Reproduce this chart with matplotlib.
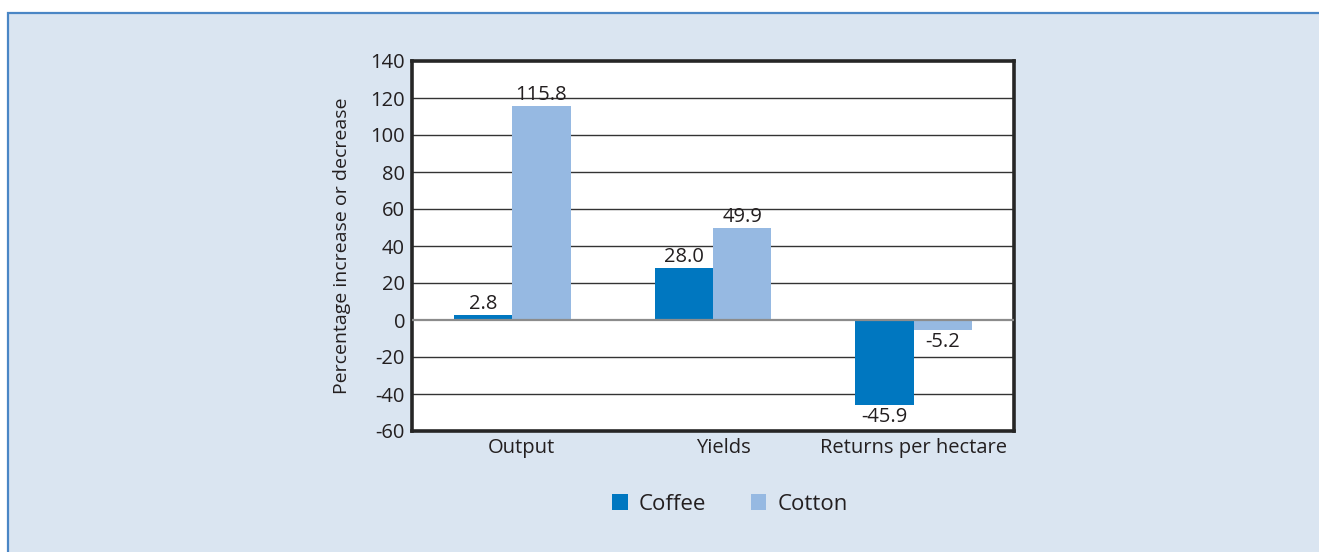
import matplotlib
matplotlib.use("Agg")
import matplotlib.pyplot as plt
import numpy as np
from matplotlib.patches import Rectangle, Patch

plt.rcParams['font.family'] = ['Open Sans', 'DejaVu Sans']

categories = ["Output", "Yields", "Returns per hectare"]
coffee = [2.8, 28.0, -45.9]
cotton = [115.8, 49.9, -5.2]
series_names = ["Coffee", "Cotton"]
yticks = [-60, -40, -20, 0, 20, 40, 60, 80, 100, 120, 140]

coffee_color = "#0077c0"
cotton_color = "#96b9e2"
panel_color = "#dae5f1"
text_color = "#231f20"

fig = plt.figure(figsize=(13.19, 5.52), dpi=100)
fig.patch.set_facecolor("white")

# light blue panel with a blue border, kept behind the axes
panel = Rectangle((8 / 1319, -0.01), 1.0, 1 - 13 / 552 + 0.01,
                  transform=fig.transFigure, facecolor=panel_color,
                  edgecolor="#4a86c5", linewidth=1.6, zorder=-10)
fig.patches.append(panel)

ax = fig.add_axes([412 / 1319, 1 - 431 / 552, 602 / 1319, 370 / 552])
ax.set_zorder(1)
ax.set_facecolor("white")

x = np.arange(len(categories))
w = 0.29
ax.bar(x - w / 2, coffee, width=w, color=coffee_color, zorder=3)
ax.bar(x + w / 2, cotton, width=w, color=cotton_color, zorder=3)

fs = 14.5
for xs, vals in ((x - w / 2, coffee), (x + w / 2, cotton)):
    for xi, v in zip(xs, vals):
        ax.text(xi, v + (0.6 if v >= 0 else -1.2), f"{v:.1f}",
                ha="center", va="bottom" if v >= 0 else "top",
                fontsize=fs, color=text_color, zorder=4)

ax.set_xlim(-0.5, 2.5)
ax.set_ylim(-60, 140)
ax.set_yticks(yticks)
ax.set_yticklabels([str(t) for t in yticks], fontsize=fs, color=text_color)
# category labels sit slightly right of the first two group centres
ax.set_xticks(x + np.array([0.045, 0.05, 0.0]))
ax.set_xticklabels(categories, fontsize=fs, color=text_color)
ax.tick_params(length=0, pad=5)

for t in yticks:
    if t == 0:
        ax.axhline(0, color="#8c8c8c", linewidth=1.6, zorder=5)
    elif t not in (-60, 140):
        ax.axhline(t, color="#333333", linewidth=1.0, zorder=1)

for s in ax.spines.values():
    s.set_linewidth(2.6)
    s.set_color("#262626")

ax.set_ylabel("Percentage increase or decrease", fontsize=14,
              color=text_color, labelpad=14)

handles = [Patch(facecolor=coffee_color), Patch(facecolor=cotton_color)]
fig.legend(handles, series_names, loc="center",
           bbox_to_anchor=(730 / 1319, 1 - 504 / 552), ncol=2,
           frameon=False, fontsize=16, handlelength=0.7, handleheight=0.7,
           handletextpad=0.5, columnspacing=2.0, labelcolor=text_color)

fig.savefig("out.png", dpi=100, facecolor=fig.get_facecolor())
